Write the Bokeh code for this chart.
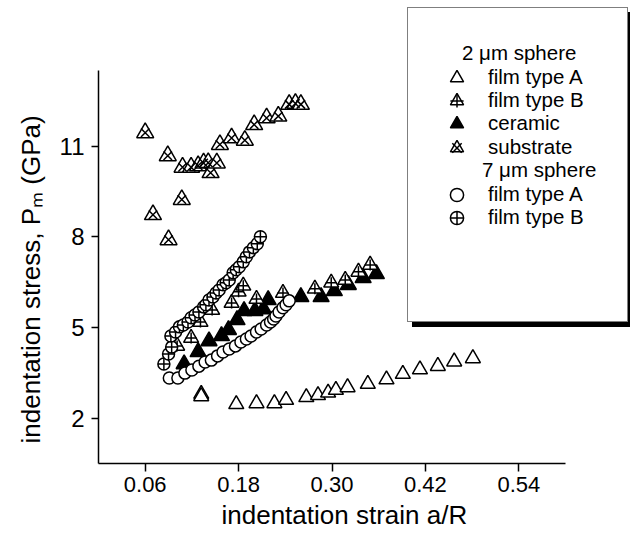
from bokeh.plotting import figure
from bokeh.models import Range1d, FixedTicker, Legend, LegendItem, PrintfTickFormatter, Title
from bokeh.embed import file_html
from bokeh.resources import INLINE

# ---- data ----
a2_x = [0.132, 0.132, 0.177, 0.203, 0.226, 0.241, 0.267, 0.282, 0.295, 0.305, 0.320, 0.346, 0.370, 0.391, 0.413, 0.436, 0.457, 0.481]
a2_y = [2.80, 2.72, 2.46, 2.49, 2.49, 2.60, 2.69, 2.76, 2.84, 2.93, 3.02, 3.13, 3.28, 3.46, 3.61, 3.72, 3.87, 3.98]

b2_x = [0.101, 0.119, 0.131, 0.146, 0.171, 0.180, 0.186, 0.203, 0.237, 0.278, 0.299, 0.317, 0.334, 0.349]
b2_y = [4.39, 4.65, 5.18, 5.58, 5.81, 6.18, 6.38, 5.94, 6.14, 6.28, 6.48, 6.57, 6.84, 7.07]

cer_x = [0.110, 0.128, 0.142, 0.158, 0.167, 0.178, 0.187, 0.201, 0.212, 0.218, 0.260, 0.286, 0.303, 0.321, 0.340, 0.357]
cer_y = [3.79, 4.19, 4.55, 4.72, 4.92, 5.25, 5.55, 5.55, 5.61, 5.91, 6.01, 6.01, 6.21, 6.41, 6.64, 6.77]

sub_x = [0.060, 0.070, 0.090, 0.089, 0.107, 0.108, 0.119, 0.128, 0.135, 0.141, 0.144, 0.152, 0.156, 0.171, 0.188, 0.200, 0.216, 0.231, 0.245, 0.253, 0.260]
sub_y = [11.44, 8.73, 7.90, 10.68, 9.23, 10.30, 10.30, 10.35, 10.44, 10.45, 10.12, 10.44, 11.05, 11.27, 11.19, 11.71, 11.93, 11.99, 12.38, 12.41, 12.38]

c7a_x = [0.091, 0.102, 0.111, 0.120, 0.129, 0.137, 0.145, 0.153, 0.160, 0.168, 0.176, 0.183, 0.190, 0.196, 0.203, 0.209, 0.216, 0.221, 0.225, 0.228, 0.232, 0.237, 0.241, 0.245]
c7a_y = [3.33, 3.33, 3.49, 3.59, 3.72, 3.86, 3.92, 4.06, 4.19, 4.29, 4.39, 4.52, 4.62, 4.72, 4.85, 4.95, 5.08, 5.18, 5.28, 5.38, 5.51, 5.65, 5.75, 5.88]

c7b_x = [0.084, 0.090, 0.094, 0.093, 0.099, 0.104, 0.109, 0.115, 0.119, 0.124, 0.129, 0.135, 0.138, 0.142, 0.147, 0.151, 0.155, 0.160, 0.164, 0.168, 0.173, 0.177, 0.181, 0.186, 0.190, 0.194, 0.199, 0.204, 0.208]
c7b_y = [3.79, 4.12, 4.35, 4.72, 4.85, 5.02, 5.08, 5.18, 5.32, 5.41, 5.51, 5.68, 5.75, 5.91, 6.01, 6.14, 6.24, 6.41, 6.48, 6.57, 6.81, 6.91, 7.01, 7.17, 7.34, 7.50, 7.64, 7.77, 8.00]

x_ticks = [0.06, 0.18, 0.30, 0.42, 0.54]
y_ticks = [2, 5, 8, 11]
x_axis_span = (0.0, 0.6)
y_axis_span = (0.5, 13.5)

header_2um = "2 \u03bcm sphere"
header_7um = "7 \u03bcm sphere"
labels = ["film type A", "film type B", "ceramic", "substrate", "film type A", "film type B"]
x_title = "indentation strain a/R"
y_title = "indentation stress, P\u2098 (GPa)"

FONT = "Liberation Sans"
W, H = 630, 536
LEFT, BOTTOM = 98, 73           # space for the axes
AX_W, AX_H = 467, 393           # pixel length of the drawn axes
FW, FH = W - LEFT, H - BOTTOM   # frame reaches the right and top edges (legend area)

x_end = x_axis_span[0] + (x_axis_span[1] - x_axis_span[0]) * FW / AX_W
y_end = y_axis_span[0] + (y_axis_span[1] - y_axis_span[0]) * FH / AX_H

p = figure(width=W, height=H, output_backend="svg", toolbar_location=None,
           x_range=Range1d(x_axis_span[0], x_end), y_range=Range1d(y_axis_span[0], y_end),
           min_border_left=LEFT, min_border_right=0, min_border_top=0, min_border_bottom=BOTTOM)
p.grid.visible = False
p.outline_line_color = None

for ax in (p.xaxis[0], p.yaxis[0]):
    ax.axis_line_width = 1.5
    ax.major_tick_line_width = 1.5
    ax.major_tick_in = 0
    ax.minor_tick_line_color = None
    ax.major_label_text_font = FONT
    ax.major_label_text_color = "black"

p.xaxis.bounds = x_axis_span
p.xaxis.ticker = FixedTicker(ticks=x_ticks)
p.xaxis.formatter = PrintfTickFormatter(format="%.2f")
p.xaxis.major_label_text_font_size = "22px"
p.xaxis.major_tick_out = 8
p.xaxis.major_label_standoff = 5

p.yaxis.bounds = y_axis_span
p.yaxis.ticker = FixedTicker(ticks=y_ticks)
p.yaxis.major_label_text_font_size = "24px"
p.yaxis.major_tick_out = 7
p.yaxis.major_label_standoff = 7

# axis titles (placed along the drawn part of the axes)
p.add_layout(Title(text=y_title, align="left", offset=20, standoff=21,
                   text_font=FONT, text_font_size="26px", text_font_style="normal",
                   text_color="black"), "left")
p.add_layout(Title(text=x_title, align="left", offset=123, standoff=6,
                   text_font=FONT, text_font_size="26px", text_font_style="normal",
                   text_color="black"), "below")

LW = 1.5
r_cer = p.scatter(cer_x, cer_y, marker="triangle", size=16, fill_color="black", line_color="black", line_width=LW)
r_a2 = p.scatter(a2_x, a2_y, marker="triangle", size=15, fill_color="white", line_color="black", line_width=LW)
r_b2t = p.scatter(b2_x, b2_y, marker="triangle", size=15, fill_color="white", line_color="black", line_width=LW)
r_b2c = p.scatter(b2_x, b2_y, marker="cross", size=11, line_color="black", line_width=LW)
r_subt = p.scatter(sub_x, sub_y, marker="triangle", size=17, fill_color="white", line_color="black", line_width=LW)
r_subx = p.scatter(sub_x, sub_y, marker="x", size=12, line_color="black", line_width=LW)
r_c7a = p.scatter(c7a_x, c7a_y, marker="circle", size=12, fill_color="white", line_color="black", line_width=LW)
r_c7b = p.scatter(c7b_x, c7b_y, marker="circle_cross", size=12, fill_color="white", line_color="black", line_width=LW)

blank = p.scatter([], [], marker="circle", size=1, fill_alpha=0, line_alpha=0)

# legend geometry (picture pixels; converted to offsets from the frame's bottom-left corner)
BOX_L, BOX_T, BOX_W, BOX_H = 407, 9, 219, 313
SHADOW = 5
GLYPH = 33
G_LEFT = 440            # left of legend symbol cell
ITEM_TEXT_X = 488       # left of item texts
row_centres = [77, 100, 123, 147, 194, 217]
headers = [(header_2um, 462, 53), (header_7um, 482, 170)]
LEG_FONT_SIZE = "20.5px"


def box_legend(left, top, fill):
    return Legend(items=[LegendItem(label=" ", renderers=[blank])],
                  location=(left - LEFT, (H - BOTTOM) - (top + BOX_H)),
                  padding=0, margin=0, spacing=0, glyph_width=10, glyph_height=BOX_H,
                  label_width=BOX_W - 10, label_height=BOX_H, label_standoff=0,
                  background_fill_color=fill, background_fill_alpha=1.0,
                  border_line_color="black", border_line_width=1.5,
                  label_text_font_size="10px")


def row_legend(label, renderers, glyph_w, standoff, left, centre):
    return Legend(items=[LegendItem(label=label, renderers=renderers)],
                  location=(left - LEFT, (H - BOTTOM) - (centre + GLYPH / 2)),
                  padding=0, margin=0, spacing=0, glyph_width=glyph_w, glyph_height=GLYPH,
                  label_height=GLYPH, label_standoff=int(standoff),
                  background_fill_alpha=0, border_line_color=None,
                  label_text_font=FONT, label_text_font_size=LEG_FONT_SIZE, label_text_color="black")


legends = [box_legend(BOX_L + SHADOW, BOX_T + SHADOW, "black"), box_legend(BOX_L, BOX_T, "white")]
item_renderers = [[r_a2], [r_b2t, r_b2c], [r_cer], [r_subt, r_subx], [r_c7a], [r_c7b]]
for lab, rends, yc in zip(labels, item_renderers, row_centres):
    legends.append(row_legend(lab, rends, GLYPH, ITEM_TEXT_X - (G_LEFT + GLYPH), G_LEFT, yc))
for text, x0, yc in headers:
    legends.append(row_legend(text, [blank], 1, 0, x0 - 1, yc))

for lg in legends:
    p.add_layout(lg, "center")

open("out.html", "w").write(file_html(p, INLINE))
